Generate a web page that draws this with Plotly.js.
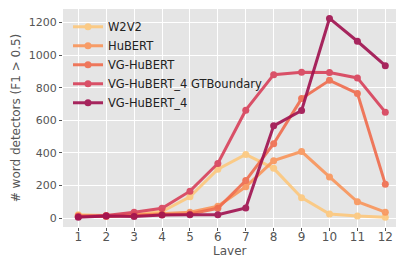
<!DOCTYPE html>
<html>
<head>
<meta charset="utf-8">
<script src="https://cdn.plot.ly/plotly-3.0.1.min.js"></script>
<style>html,body{margin:0;padding:0;background:#fff;}#chart{width:396px;height:255px;}</style>
</head>
<body>
<div id="chart"></div>
<script>
const layers = [1,2,3,4,5,6,7,8,9,10,11,12];
const seriesNames = ["W2V2","HuBERT","VG-HuBERT","VG-HuBERT_4 GTBoundary","VG-HuBERT_4"];
const w2v2 = [20, 15, 20, 40, 130, 300, 390, 305, 125, 25, 12, 5];
const hubert = [15, 12, 18, 25, 35, 72, 192, 352, 408, 252, 100, 36];
const vgHubert = [10, 10, 15, 20, 25, 60, 230, 456, 733, 845, 765, 208];
const vgHubert4GT = [10, 15, 36, 60, 165, 335, 662, 880, 895, 893, 860, 650];
const vgHubert4 = [5, 12, 10, 18, 20, 20, 62, 566, 660, 1225, 1085, 935];
const tickVals = [0,200,400,600,800,1000,1200];
const colors = ["#fdc87c","#f9955a","#f06c4d","#d8405a","#a0114f"];

const allSeries = [w2v2, hubert, vgHubert, vgHubert4GT, vgHubert4];
const traces = allSeries.map((ys, i) => ({
  x: layers, y: ys, name: seriesNames[i], type: "scatter", mode: "lines+markers",
  line: {color: colors[i], width: 3}, marker: {color: colors[i], size: 7},
  opacity: 0.9
}));

const layout = {
  width: 396, height: 255,
  margin: {l: 63, r: 0, t: 9, b: 28},
  paper_bgcolor: "#ffffff", plot_bgcolor: "#e5e5e5",
  font: {family: "DejaVu Sans", color: "#555555"},
  showlegend: true,
  legend: {x: 0.015, y: 0.985, xanchor: "left", yanchor: "top",
    bgcolor: "rgba(0,0,0,0)", borderwidth: 0,
    font: {size: 11.5, color: "#222222"}, tracegroupgap: 0},
  xaxis: {range: [0.452, 12.383], tickvals: layers, ticks: "outside", ticklen: 3,
    tickcolor: "#555555", gridcolor: "#ffffff", gridwidth: 1, zeroline: false,
    tickfont: {size: 12, color: "#555555"}, showline: false, ticklabelstandoff: -4},
  yaxis: {range: [-55, 1283], tickvals: tickVals, ticks: "outside", ticklen: 3,
    tickcolor: "#555555", gridcolor: "#ffffff", gridwidth: 1, zeroline: false,
    tickfont: {size: 11, color: "#555555"}, showline: false,
    title: {text: "# word detectors (F1 > 0.5)", font: {size: 12, color: "#555555"}, standoff: 5}},
  annotations: [{text: "Layer", xref: "paper", yref: "paper", x: 0.5, y: -0.11,
    xanchor: "center", yanchor: "middle", showarrow: false,
    font: {size: 12, color: "#555555"}}]
};
Plotly.newPlot("chart", traces, layout, {displayModeBar: false, staticPlot: true});
</script>
</body>
</html>
